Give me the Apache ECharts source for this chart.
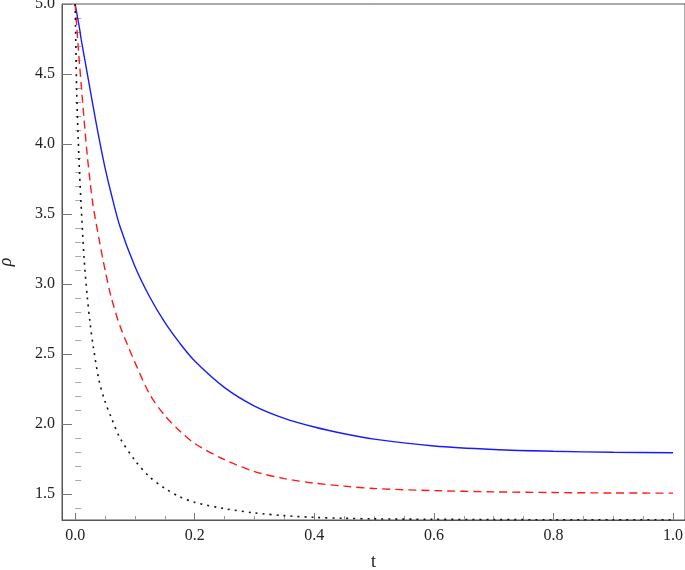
<!DOCTYPE html>
<html>
<head>
<meta charset="utf-8">
<script src="https://cdn.jsdelivr.net/npm/echarts@6/dist/echarts.min.js"></script>
<style>
  html, body { margin: 0; padding: 0; background: #fff; }
  #main { width: 685px; height: 570px; }
</style>
</head>
<body>
<div id="main"></div>
<script>
// time samples (shared by all three curves)
var tValues = [0, 0.0025, 0.005, 0.0075, 0.01, 0.015, 0.02, 0.025, 0.03, 0.04, 0.05, 0.06, 0.075,
  0.1, 0.125, 0.15, 0.175, 0.2, 0.25, 0.3, 0.35, 0.4, 0.45, 0.5, 0.6, 0.7, 0.8, 0.9, 1.0];

// rho
var rhoBlue = [5.0, 4.94, 4.88, 4.82, 4.75, 4.63, 4.51, 4.39, 4.27, 4.04, 3.83, 3.65, 3.41,
  3.125, 2.905, 2.725, 2.577, 2.45, 2.26, 2.128, 2.04, 1.978, 1.93, 1.892, 1.843, 1.818, 1.805, 1.798, 1.794];
var rhoRed = [5.0, 4.85, 4.70, 4.56, 4.43, 4.17, 3.93, 3.73, 3.56, 3.32, 3.10, 2.91, 2.70,
  2.44, 2.21, 2.06, 1.95, 1.86, 1.745, 1.66, 1.61, 1.577, 1.556, 1.539, 1.524, 1.515, 1.51, 1.507, 1.506];
var rhoBlack = [5.0, 4.38, 4.05, 3.78, 3.56, 3.18, 2.92, 2.72, 2.56, 2.31, 2.16, 2.05, 1.90,
  1.74, 1.62, 1.54, 1.48, 1.44, 1.395, 1.365, 1.345, 1.333, 1.326, 1.322, 1.319, 1.317, 1.316, 1.316, 1.315];

// ticks
var xMajor = [0, 0.2, 0.4, 0.6, 0.8, 1.0];
var xMinor = [0.05, 0.1, 0.15, 0.25, 0.3, 0.35, 0.45, 0.5, 0.55, 0.65, 0.7, 0.75, 0.85, 0.9, 0.95];
var yMajor = [1.5, 2.0, 2.5, 3.0, 3.5, 4.0, 4.5, 5.0];
var yMinor = [1.4, 1.6, 1.7, 1.8, 1.9, 2.1, 2.2, 2.3, 2.4, 2.6, 2.7, 2.8, 2.9, 3.1, 3.2, 3.3, 3.4,
  3.6, 3.7, 3.8, 3.9, 4.1, 4.2, 4.3, 4.4, 4.6, 4.7, 4.8, 4.9];

function pairs(ys) {
  var out = [];
  for (var i = 0; i < tValues.length; i++) out.push([tValues[i], ys[i]]);
  return out;
}

var serif = "'Liberation Serif', 'DejaVu Serif', serif";
var xMin = -0.022, xMax = 1.02, yMin = 1.314, yMax = 5.0;

var myChart = echarts.init(document.getElementById('main'));
var option = {
  animation: false,
  backgroundColor: '#fff',
  grid: {
    left: 62, right: 0, top: 4, bottom: 50,
    outerBoundsMode: 'none',
    containLabel: false,
    show: true,
    borderColor: '#555',
    borderWidth: 1
  },
  xAxis: [
    {
      type: 'value', min: xMin, max: xMax,
      name: 't', nameLocation: 'middle', nameGap: 33,
      nameTextStyle: { fontFamily: serif, fontSize: 18, color: '#222' },
      axisLine: { show: true, onZero: false, lineStyle: { color: '#555', width: 1 } },
      axisTick: { show: true, inside: true, length: 7, customValues: xMajor, lineStyle: { color: '#777' } },
      axisLabel: {
        customValues: xMajor, margin: 8,
        fontFamily: serif, fontSize: 16, color: '#222',
        formatter: function (v) { return v.toFixed(1); }
      },
      splitLine: { show: false }
    },
    {
      type: 'value', min: xMin, max: xMax, position: 'bottom',
      axisLine: { show: false },
      axisTick: { show: true, inside: true, length: 4, customValues: xMinor, lineStyle: { color: '#999' } },
      axisLabel: { show: false },
      splitLine: { show: false }
    }
  ],
  yAxis: [
    {
      type: 'value', min: yMin, max: yMax,
      name: 'ρ', nameLocation: 'middle', nameGap: 47, nameRotate: 90,
      nameTextStyle: { fontFamily: serif, fontSize: 18, fontStyle: 'italic', color: '#222' },
      axisLine: { show: true, onZero: false, lineStyle: { color: '#555', width: 1 } },
      axisTick: { show: true, inside: true, length: 10, customValues: yMajor, lineStyle: { color: '#777' } },
      axisLabel: {
        customValues: yMajor, margin: 7,
        fontFamily: serif, fontSize: 16, color: '#222',
        formatter: function (v) { return v.toFixed(1); }
      },
      splitLine: { show: false }
    },
    {
      type: 'value', min: yMin, max: yMax, position: 'left',
      axisLine: { show: false },
      axisTick: { show: true, inside: true, length: 6, customValues: yMinor, lineStyle: { color: '#aaa' } },
      axisLabel: { show: false },
      splitLine: { show: false }
    }
  ],
  series: [
    {
      name: 'blue', type: 'line', showSymbol: false, clip: true,
      smooth: 0.3,
      data: pairs(rhoBlue),
      lineStyle: { color: '#1a1aff', width: 1.4, type: 'solid' }
    },
    {
      name: 'red', type: 'line', showSymbol: false, clip: true,
      smooth: 0.3,
      data: pairs(rhoRed),
      lineStyle: { color: '#ff1a1a', width: 1.4, type: [8, 5] }
    },
    {
      name: 'black', type: 'line', showSymbol: false, clip: true,
      smooth: 0.3,
      data: pairs(rhoBlack),
      lineStyle: { color: '#111', width: 1.6, type: [2, 5] }
    }
  ]
};
myChart.setOption(option);
</script>
</body>
</html>
